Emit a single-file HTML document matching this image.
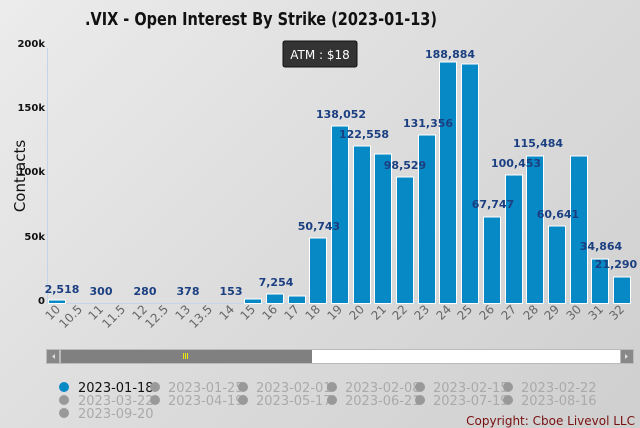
<!DOCTYPE html>
<html><head><meta charset="utf-8"><style>
html,body{margin:0;padding:0}
body{width:640px;height:428px;overflow:hidden;background:linear-gradient(135deg,#ececec 0%,#dcdcdc 50%,#cfcfcf 100%);font-family:"DejaVu Sans","Liberation Sans",sans-serif}
</style></head><body>
<svg width="640" height="428" xmlns="http://www.w3.org/2000/svg" style="position:absolute;left:0;top:0">
<text x="85" y="25" textLength="352" lengthAdjust="spacingAndGlyphs" font-family="DejaVu Sans,sans-serif" font-weight="bold" font-size="18" fill="#111">.VIX - Open Interest By Strike (2023-01-13)</text>
<line x1="47.5" y1="48" x2="47.5" y2="304" stroke="#c6d4ea" stroke-width="1"/>
<line x1="47" y1="303.5" x2="633" y2="303.5" stroke="#c6d4ea" stroke-width="1"/>
<g font-family="DejaVu Sans,sans-serif" font-weight="bold" font-size="10" fill="#111" text-anchor="end">
<text x="45" y="47">200k</text><text x="45" y="111">150k</text><text x="45" y="175">100k</text><text x="45" y="240">50k</text><text x="45" y="304">0</text>
</g>
<text transform="translate(25,176) rotate(-90)" text-anchor="middle" font-size="15" fill="#111" font-family="DejaVu Sans,sans-serif">Contracts</text>
<g fill="#0789c6" stroke="#ffffff" stroke-width="1">
<rect x="48.5" y="300" width="17" height="3.5"/>
<rect x="244.5" y="299" width="17" height="4.5"/>
<rect x="266.5" y="294" width="17" height="9.5"/>
<rect x="288.5" y="296" width="17" height="7.5"/>
<rect x="309.5" y="238" width="17" height="65.5"/>
<rect x="331.5" y="126" width="17" height="177.5"/>
<rect x="353.5" y="146" width="17" height="157.5"/>
<rect x="374.5" y="154" width="17" height="149.5"/>
<rect x="396.5" y="177" width="17" height="126.5"/>
<rect x="418.5" y="135" width="17" height="168.5"/>
<rect x="439.5" y="62" width="17" height="241.5"/>
<rect x="461.5" y="64" width="17" height="239.5"/>
<rect x="483.5" y="217" width="17" height="86.5"/>
<rect x="505.5" y="175" width="17" height="128.5"/>
<rect x="526.5" y="156" width="17" height="147.5"/>
<rect x="548.5" y="226" width="17" height="77.5"/>
<rect x="570.5" y="156" width="17" height="147.5"/>
<rect x="591.5" y="259" width="17" height="44.5"/>
<rect x="613.5" y="277" width="17" height="26.5"/>
</g>
<g font-family="DejaVu Sans,sans-serif" font-weight="bold" font-size="11" fill="#1b3f80" text-anchor="middle">
<text x="62" y="293">2,518</text><text x="101" y="295">300</text><text x="145" y="295">280</text><text x="188" y="295">378</text><text x="231" y="295">153</text><text x="276" y="286">7,254</text>
<text x="319" y="230">50,743</text><text x="341" y="118">138,052</text><text x="364" y="138">122,558</text><text x="405" y="169">98,529</text><text x="428" y="127">131,356</text><text x="450" y="58">188,884</text><text x="493" y="208">67,747</text><text x="516" y="167">100,453</text><text x="538" y="147">115,484</text><text x="558" y="218">60,641</text><text x="601" y="250">34,864</text><text x="616" y="268">21,290</text>
</g>
<g font-family="DejaVu Sans,sans-serif" font-size="12" fill="#666" text-anchor="end">
<text transform="translate(61,310) rotate(-45)">10</text><text transform="translate(83,310) rotate(-45)">10.5</text><text transform="translate(104,310) rotate(-45)">11</text><text transform="translate(126,310) rotate(-45)">11.5</text><text transform="translate(148,310) rotate(-45)">12</text><text transform="translate(169,310) rotate(-45)">12.5</text><text transform="translate(191,310) rotate(-45)">13</text><text transform="translate(213,310) rotate(-45)">13.5</text><text transform="translate(235,310) rotate(-45)">14</text><text transform="translate(256,310) rotate(-45)">15</text><text transform="translate(278,310) rotate(-45)">16</text><text transform="translate(300,310) rotate(-45)">17</text><text transform="translate(321,310) rotate(-45)">18</text><text transform="translate(343,310) rotate(-45)">19</text><text transform="translate(365,310) rotate(-45)">20</text><text transform="translate(387,310) rotate(-45)">21</text><text transform="translate(408,310) rotate(-45)">22</text><text transform="translate(430,310) rotate(-45)">23</text><text transform="translate(452,310) rotate(-45)">24</text><text transform="translate(473,310) rotate(-45)">25</text><text transform="translate(495,310) rotate(-45)">26</text><text transform="translate(517,310) rotate(-45)">27</text><text transform="translate(539,310) rotate(-45)">28</text><text transform="translate(560,310) rotate(-45)">29</text><text transform="translate(582,310) rotate(-45)">30</text><text transform="translate(604,310) rotate(-45)">31</text><text transform="translate(625,310) rotate(-45)">32</text>
</g>
<rect x="283" y="41" width="74" height="26" rx="2" fill="#333" stroke="#111"/>
<text x="320" y="59" text-anchor="middle" font-family="DejaVu Sans,sans-serif" font-size="12" fill="#fff">ATM : $18</text>
<rect x="46" y="349" width="588" height="15" fill="#bbb"/>
<rect x="47" y="350" width="12" height="13" fill="#888"/>
<polygon points="55,354 52,356.5 55,359" fill="#ddd"/>
<rect x="61" y="350" width="251" height="13" fill="#808080"/>
<rect x="312" y="350" width="308" height="13" fill="#fff"/>
<rect x="621" y="350" width="12" height="13" fill="#888"/>
<polygon points="625,354 628,356.5 625,359" fill="#ddd"/>
<g stroke="#e8e800" stroke-width="1"><line x1="183.5" y1="353" x2="183.5" y2="359"/><line x1="185.5" y1="353" x2="185.5" y2="359"/><line x1="187.5" y1="353" x2="187.5" y2="359"/></g>
<g font-family="DejaVu Sans,sans-serif" font-size="13" fill="#aaa">
<circle cx="64" cy="387" r="5" fill="#0789c6"/><text x="78" y="392" fill="#111">2023-01-18</text>
<circle cx="155" cy="387" r="5" fill="#999"/><text x="168" y="392">2023-01-25</text>
<circle cx="243" cy="387" r="5" fill="#999"/><text x="256" y="392">2023-02-01</text>
<circle cx="332" cy="387" r="5" fill="#999"/><text x="345" y="392">2023-02-08</text>
<circle cx="420" cy="387" r="5" fill="#999"/><text x="433" y="392">2023-02-15</text>
<circle cx="508" cy="387" r="5" fill="#999"/><text x="521" y="392">2023-02-22</text>
<circle cx="64" cy="400" r="5" fill="#999"/><text x="78" y="405">2023-03-22</text>
<circle cx="155" cy="400" r="5" fill="#999"/><text x="168" y="405">2023-04-19</text>
<circle cx="243" cy="400" r="5" fill="#999"/><text x="256" y="405">2023-05-17</text>
<circle cx="332" cy="400" r="5" fill="#999"/><text x="345" y="405">2023-06-21</text>
<circle cx="420" cy="400" r="5" fill="#999"/><text x="433" y="405">2023-07-19</text>
<circle cx="508" cy="400" r="5" fill="#999"/><text x="521" y="405">2023-08-16</text>
<circle cx="64" cy="413" r="5" fill="#999"/><text x="78" y="418">2023-09-20</text>
</g>
<text x="635" y="425" text-anchor="end" font-family="DejaVu Sans,sans-serif" font-size="12" fill="#7a1010">Copyright: Cboe Livevol LLC</text>
</svg>
</body></html>
